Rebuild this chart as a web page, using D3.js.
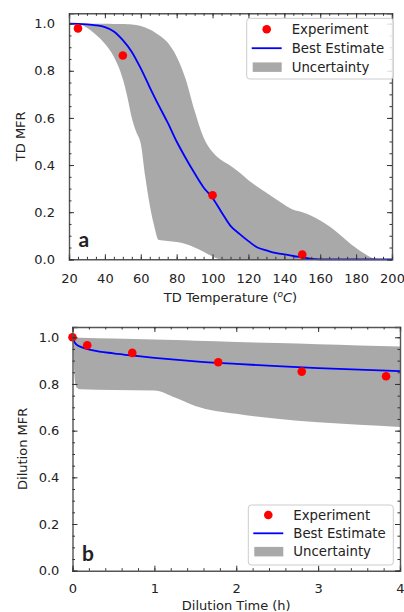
<!DOCTYPE html>
<html><head><meta charset="utf-8">
<script src="https://cdn.jsdelivr.net/npm/d3@7"></script>
<style>
body{margin:0;background:#fff}
text{font-family:"DejaVu Sans",sans-serif;fill:#222}
</style>
</head><body>
<svg id="c" width="404" height="612"></svg>
<script>
// ---------- Panel a: TD ----------
const tdExpT   = [25, 50, 100, 150];
const tdExpMFR = [0.98, 0.865, 0.272, 0.02];

const tdBestT   = [20,25,30,35,40,45,50,55,60,65,70,75,80,85,90,95,100,105,110,115,120,125,130,135,140,145,150,155,160,200];
const tdBestMFR = [1.0,0.999,0.997,0.993,0.985,0.967,0.93,0.88,0.81,0.73,0.653,0.58,0.5,0.43,0.365,0.305,0.26,0.2,0.142,0.108,0.077,0.05,0.038,0.027,0.021,0.014,0.008,0.002,0,0];

const tdBandT  = [20,25,30,35,40,45,50,52.5,55,57.5,60,62.5,65,67.5,70,75,80,85,90,95,100,105,110,115,120,125,130,135,140,145,150,155,160,165,170,175,180,185,190,195,200];
const tdBandHi = [1.0,1.0,1.0,1.0,1.0,0.999,0.999,0.998,0.997,0.994,0.99,0.984,0.975,0.965,0.952,0.92,0.86,0.765,0.63,0.517,0.455,0.42,0.397,0.368,0.336,0.308,0.282,0.257,0.232,0.21,0.2,0.185,0.165,0.14,0.111,0.078,0.048,0.022,0.003,0,0];
const tdBandLo = [1.0,0.999,0.983,0.953,0.915,0.86,0.765,0.69,0.6,0.54,0.49,0.35,0.23,0.14,0.082,0.078,0.073,0.065,0.05,0.032,0.012,0,0,0,0,0,0,0,0,0,0,0,0,0,0,0,0,0,0,0,0];

const tdXTicks = [20,40,60,80,100,120,140,160,180,200];

// ---------- Panel b: Dilution ----------
const dilExpT   = [0, 0.18, 0.73, 1.78, 2.8, 3.83];
const dilExpMFR = [1.0, 0.966, 0.933, 0.893, 0.853, 0.833];

const dilBestT   = [0,0.02,0.05,0.1,0.25,0.5,0.75,1.0,1.5,2.0,2.5,3.0,3.5,4.0];
const dilBestMFR = [1.0,0.982,0.968,0.959,0.944,0.931,0.921,0.912,0.897,0.886,0.876,0.868,0.861,0.855];

const dilBandT  = [0,0.01,0.03,0.05,0.1,0.5,1.0,1.25,1.5,2.0,2.5,3.0,3.5,4.0];
const dilBandHi = [1.0,1.0,1.0,0.999,0.998,0.995,0.99,0.988,0.985,0.98,0.975,0.97,0.965,0.96];
const dilBandLo = [1.0,0.93,0.81,0.785,0.777,0.774,0.772,0.742,0.706,0.672,0.651,0.636,0.625,0.616];

const dilXTicks = [0,1,2,3,4];

const yTicks = [0.0,0.2,0.4,0.6,0.8,1.0];
const legendLabels = ["Experiment","Best Estimate","Uncertainty"];

const svg = d3.select("#c");

function panel(cfg){
  const g = svg.append("g");
  const x = d3.scaleLinear().domain(cfg.xDomain).range([cfg.left, cfg.right]);
  const y = d3.scaleLinear().domain([0, 1.044]).range([cfg.bottom, cfg.top]);

  // band
  const band = cfg.bandT.map((t,i)=>({t, lo:cfg.bandLo[i], hi:cfg.bandHi[i]}));
  g.append("path").datum(band)
    .attr("d", d3.area().x(d=>x(d.t)).y0(d=>y(d.lo)).y1(d=>y(d.hi)).curve(d3.curveMonotoneX))
    .attr("fill","#a9a9a9");

  // best estimate
  const best = cfg.bestT.map((t,i)=>({t, v:cfg.bestV[i]}));
  g.append("path").datum(best)
    .attr("d", d3.line().x(d=>x(d.t)).y(d=>y(d.v)).curve(d3.curveMonotoneX))
    .attr("fill","none").attr("stroke","#0000ff").attr("stroke-width",1.8);

  // experiment points
  g.selectAll("circle.exp").data(cfg.expT.map((t,i)=>({t, v:cfg.expV[i]})))
    .enter().append("circle").attr("class","exp")
    .attr("cx", d=>x(d.t)).attr("cy", d=>y(d.v)).attr("r",4.3).attr("fill","#ff0000");

  // axes (inward ticks)
  const fs = "13px";
  const minorX = d3.range(cfg.xDomain[0], cfg.xDomain[1]+1e-9, cfg.xMinor);
  const minorY = d3.range(0, 1.04, 0.05);
  const frameColor = "#555";

  g.append("g").attr("transform",`translate(0,${cfg.bottom})`)
    .call(d3.axisBottom(x).tickValues(cfg.xTicks).tickSize(-5).tickPadding(cfg.xPad).tickFormat(cfg.xFmt));
  g.append("g").attr("transform",`translate(0,${cfg.top})`)
    .call(d3.axisTop(x).tickValues(cfg.xTicks).tickSize(-5).tickFormat(""));
  g.append("g").attr("transform",`translate(${cfg.left},0)`)
    .call(d3.axisLeft(y).tickValues(yTicks).tickSize(-5).tickPadding(cfg.yPad).tickFormat(d3.format(".1f")));
  g.append("g").attr("transform",`translate(${cfg.right},0)`)
    .call(d3.axisRight(y).tickValues(yTicks).tickSize(-5).tickFormat(""));
  // minor
  g.append("g").attr("transform",`translate(0,${cfg.bottom})`).call(d3.axisBottom(x).tickValues(minorX).tickSize(-2.5).tickFormat("")).select(".domain").remove();
  g.append("g").attr("transform",`translate(0,${cfg.top})`).call(d3.axisTop(x).tickValues(minorX).tickSize(-2.5).tickFormat("")).select(".domain").remove();
  g.append("g").attr("transform",`translate(${cfg.left},0)`).call(d3.axisLeft(y).tickValues(minorY).tickSize(-2.5).tickFormat("")).select(".domain").remove();
  g.append("g").attr("transform",`translate(${cfg.right},0)`).call(d3.axisRight(y).tickValues(minorY).tickSize(-2.5).tickFormat("")).select(".domain").remove();

  g.selectAll(".domain").attr("stroke",frameColor).attr("stroke-width",1.4);
  g.selectAll(".tick line").attr("stroke","#333").attr("stroke-width",1);
  g.selectAll(".tick text").style("font-family","DejaVu Sans").style("font-size",fs).attr("fill","#222");

  // axis labels
  const xl = g.append("text").attr("x",(cfg.left+cfg.right)/2).attr("y",cfg.xLabelY)
    .attr("text-anchor","middle").style("font-size",fs);
  cfg.xLabel(xl);
  g.append("text").attr("transform",`translate(${cfg.yLabelX},${(cfg.top+cfg.bottom)/2}) rotate(-90)`)
    .attr("text-anchor","middle").attr("dy","0.35em").style("font-size",fs).text(cfg.yLabel);

  // panel letter
  g.append("text").attr("x",cfg.letterX).attr("y",cfg.letterY)
    .style("font-family","Lato, 'DejaVu Sans', sans-serif").style("font-weight","bold").style("font-size","21px")
    .attr("fill","#111").text(cfg.letter);

  // legend
  const L = cfg.legend;
  const lg = g.append("g");
  lg.append("rect").attr("x",L.x).attr("y",L.y).attr("width",L.w).attr("height",L.h)
    .attr("rx",3).attr("fill","#fff").attr("fill-opacity",0.85).attr("stroke","#ccc").attr("stroke-width",1);
  const rowY = i => L.row0 + i*L.step;
  lg.append("circle").attr("cx",L.x+20).attr("cy",rowY(0)).attr("r",4.3).attr("fill","#ff0000");
  lg.append("line").attr("x1",L.x+5).attr("x2",L.x+35).attr("y1",rowY(1)).attr("y2",rowY(1))
    .attr("stroke","#0000ff").attr("stroke-width",1.8);
  lg.append("rect").attr("x",L.x+6).attr("y",rowY(2)-4.7).attr("width",29).attr("height",9.5).attr("fill","#a9a9a9");
  lg.selectAll("text.lt").data(legendLabels).enter().append("text").attr("class","lt")
    .attr("x",L.x+45).attr("y",(d,i)=>rowY(i)).attr("dy","0.36em").style("font-size","13.3px").text(d=>d);
}

panel({
  left:69, right:392, top:13.3, bottom:259.3,
  xDomain:[20,200], xTicks:tdXTicks, xMinor:5, xFmt:d3.format("d"), xPad:14.2, yPad:14,
  bandT:tdBandT, bandLo:tdBandLo, bandHi:tdBandHi,
  bestT:tdBestT, bestV:tdBestMFR, expT:tdExpT, expV:tdExpMFR,
  xLabelY:301.5,
  xLabel: t => { t.append("tspan").text("TD Temperature (");
                 t.append("tspan").attr("dy","-5").style("font-size","9px").style("font-style","italic").text("o");
                 t.append("tspan").attr("dy","5").style("font-style","italic").text("C");
                 t.append("tspan").text(")"); },
  yLabel:"TD MFR", yLabelX:20,
  letter:"a", letterX:78.5, letterY:246.7,
  legend:{x:246.7, y:18.3, w:146.6, h:60.7, row0:29.3, step:18.9}
});

panel({
  left:72.5, right:400, top:327, bottom:570.7,
  xDomain:[0,4], xTicks:dilXTicks, xMinor:0.2, xFmt:d3.format("d"), xPad:13.4, yPad:13.2,
  bandT:dilBandT, bandLo:dilBandLo, bandHi:dilBandHi,
  bestT:dilBestT, bestV:dilBestMFR, expT:dilExpT, expV:dilExpMFR,
  xLabelY:610,
  xLabel: t => t.text("Dilution Time (h)"),
  yLabel:"Dilution MFR", yLabelX:22,
  letter:"b", letterX:82, letterY:560.7,
  legend:{x:248.3, y:505, w:145, h:60, row0:515, step:18.3}
});
</script>
</body></html>
